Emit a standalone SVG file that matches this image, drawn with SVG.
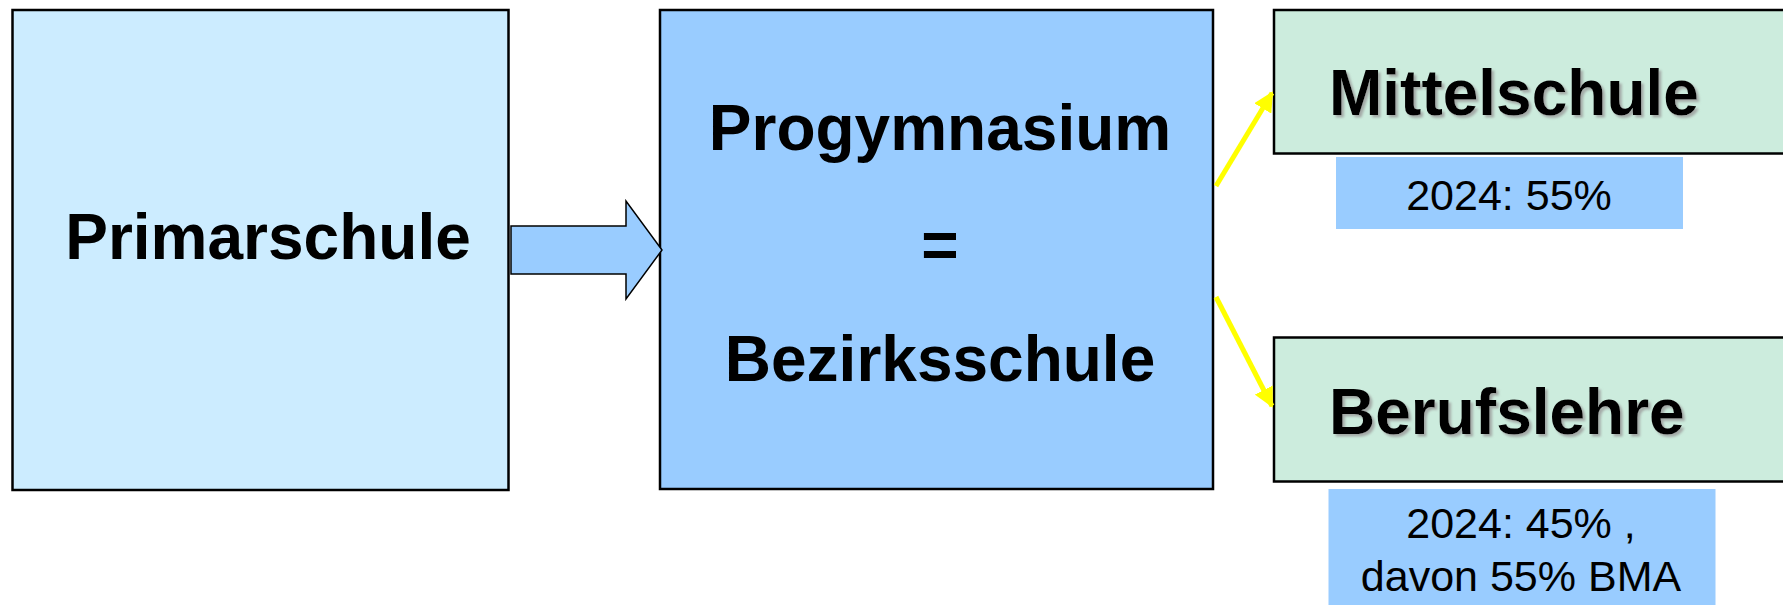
<svg xmlns="http://www.w3.org/2000/svg" width="1783" height="605" viewBox="0 0 1783 605">
<style>
  .box { stroke: #000; stroke-width: 2.5; }
  .light { fill: #CCECFF; }
  .mid { fill: #99CCFF; }
  .green { fill: #CCECDD; }
  .big { font-family: "Liberation Sans", Arial, sans-serif; font-weight: bold; font-size: 64px; fill: #000; }
  .small { font-family: "Liberation Sans", Arial, sans-serif; font-size: 43px; fill: #000; }
  .conn { stroke: #FFFF00; stroke-width: 5; fill: none; }
</style>
<defs>
  <marker id="yhead" viewBox="0 0 10 10" refX="9" refY="5" markerWidth="4" markerHeight="4" orient="auto" markerUnits="strokeWidth">
    <path d="M0,0 L10,5 L0,10 Z" fill="#FFFF00"/>
  </marker>
  <filter id="shadow" x="-5%" y="-20%" width="115%" height="150%">
    <feDropShadow dx="2.5" dy="2.5" stdDeviation="1" flood-color="#999999" flood-opacity="0.8"/>
  </filter>
</defs>
<rect width="1783" height="605" fill="#FFFFFF"/>

<g id="primarschule">
  <rect class="box light" x="12.5" y="10" width="496" height="480"/>
  <text class="big" x="268" y="259" text-anchor="middle">Primarschule</text>
</g>

<g id="progymnasium">
  <rect class="box mid" x="660" y="10" width="553" height="479"/>
  <text class="big" x="940" y="150" text-anchor="middle">Progymnasium</text>
  <text class="big" x="940" y="267" text-anchor="middle">=</text>
  <text class="big" x="940" y="381" text-anchor="middle">Bezirksschule</text>
</g>

<g id="mittelschule">
  <rect class="box green" x="1274" y="10" width="530" height="143.5"/>
  <text class="big" x="1329" y="114.5" filter="url(#shadow)">Mittelschule</text>
</g>

<g id="label-mittelschule">
  <rect class="mid" x="1336" y="157" width="347" height="72"/>
  <text class="small" x="1509" y="209.5" text-anchor="middle">2024: 55%</text>
</g>

<g id="berufslehre">
  <rect class="box green" x="1274" y="337.5" width="530" height="144"/>
  <text class="big" x="1329" y="434" filter="url(#shadow)">Berufslehre</text>
</g>

<g id="label-berufslehre">
  <rect class="mid" x="1328.5" y="489" width="387" height="120"/>
  <text class="small" x="1521" y="538" text-anchor="middle">2024: 45% ,</text>
  <text class="small" x="1521" y="591" text-anchor="middle">davon 55% BMA</text>
</g>

<g id="connectors">
  <path d="M511,226 L626,226 L626,201 L662,250 L626,299 L626,274 L511,274 Z" fill="#99CCFF" stroke="#000" stroke-width="1.5" stroke-linejoin="miter"/>
  <line class="conn" x1="1216" y1="186" x2="1272" y2="93" marker-end="url(#yhead)"/>
  <line class="conn" x1="1216" y1="297" x2="1272" y2="406" marker-end="url(#yhead)"/>
</g>
</svg>
